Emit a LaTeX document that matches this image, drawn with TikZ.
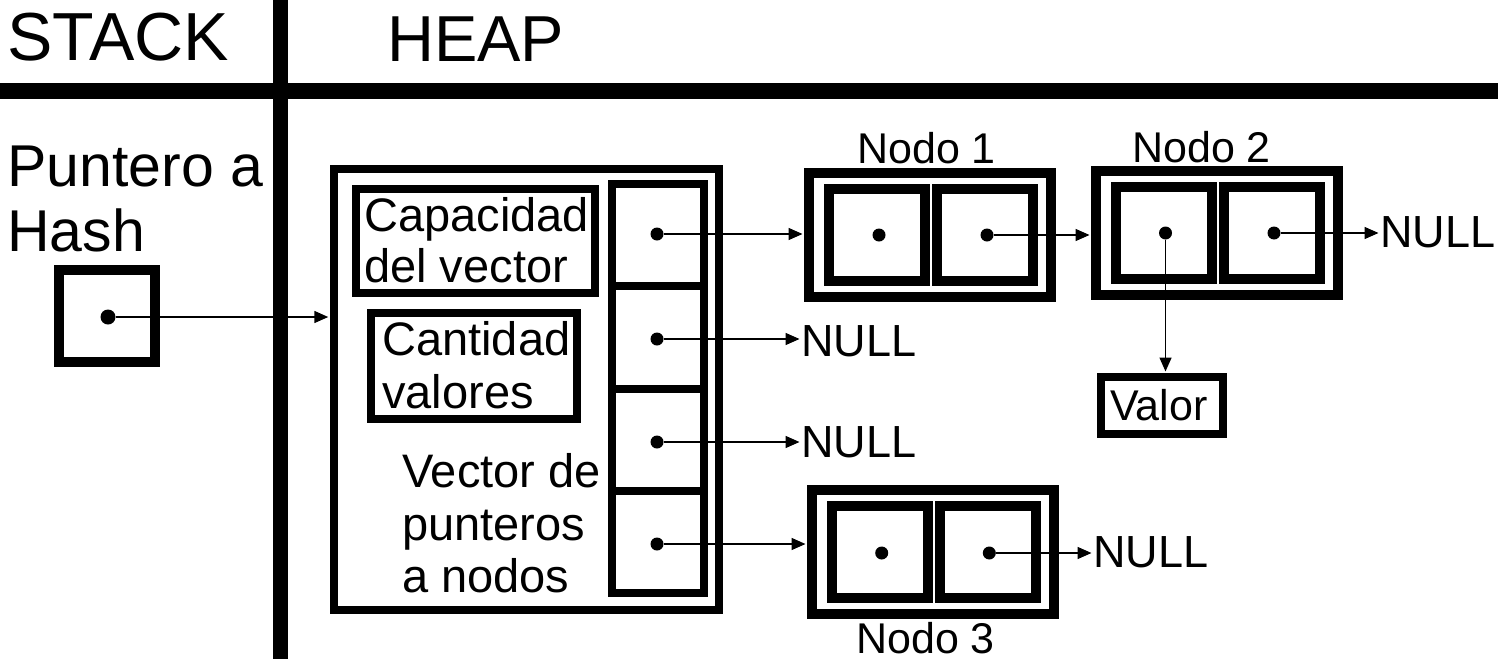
\documentclass[tikz,border=0pt]{standalone}
\usepackage{fontspec}
\setmainfont{Liberation Sans}
\usetikzlibrary{arrows.meta}
\begin{document}
\begin{tikzpicture}[x=1pt,y=-1pt,
  lbl/.style={inner sep=0pt, anchor=base west},
  ttl/.style={lbl, font=\fontsize{65}{70}\selectfont},
  stk/.style={lbl, font=\fontsize{59}{64}\selectfont},
  txt/.style={lbl, font=\fontsize{47}{52}\selectfont},
  nul/.style={lbl, font=\fontsize{45}{50}\selectfont},
  ndl/.style={inner sep=0pt, anchor=base, font=\fontsize{43}{48}\selectfont},
  box/.style={draw, rectangle, inner sep=0pt},
  frame/.style={box, line width=8pt},
  cell/.style={box, line width=8pt, minimum width=92pt, minimum height=102.5pt},
  nodebox/.style={box, line width=10pt, minimum width=242pt, minimum height=124pt},
  half/.style={box, line width=10pt, minimum width=96pt, minimum height=92pt},
  ptr/.style={circle, fill, inner sep=0pt, minimum size=13pt},
  arr/.style={line width=1.5pt, shorten >=1.5pt, -{Triangle[length=14pt,width=12pt]}}
]
\useasboundingbox (0,0) rectangle (1498,659);
\fill[white] (0,0) rectangle (1498,659);

% section dividers
\draw[line width=16pt] (0,91) -- (1498,91);
\draw[line width=15pt] (280,0) -- (280,659);

% titles
\node[ttl, font=\fontsize{68}{72}\selectfont] (stack) at (7,60) {STACK};
\node[ttl] (heap) at (387,61) {HEAP};

% stack
\node[stk] (pt1) at (7,186) {Puntero a};
\node[stk] (pt2) at (7,251) {Hash};
\node[box, line width=10pt, minimum width=96pt, minimum height=92pt] (sbox) at (107,316) {};
\node[ptr, minimum size=15pt] (sdot) at (108,317) {};

% hash structure
\node[frame, minimum width=385pt, minimum height=441pt] (hash) at (526.25,389.5) {};
\node[frame, minimum width=238.7pt, minimum height=104.3pt] (capbox) at (475.35,241.15) {};
\node[txt] (cap1) at (364,231) {Capacidad};
\node[txt] (cap2) at (364,282) {del vector};
\node[frame, minimum width=205.7pt, minimum height=106pt] (cantbox) at (473.85,366) {};
\node[txt] (cant1) at (382,355) {Cantidad};
\node[txt] (cant2) at (382,408) {valores};
\node[txt] (vec1) at (402,487) {Vector de};
\node[txt] (vec2) at (402,540) {punteros};
\node[txt] (vec3) at (402,592) {a nodos};

\node[cell] (c1) at (658,235) {};
\node[cell] (c2) at (658,337.25) {};
\node[cell] (c3) at (658,439.75) {};
\node[cell] (c4) at (658,542.15) {};
\node[ptr] (d1) at (657,234) {};
\node[ptr] (d2) at (657,339) {};
\node[ptr] (d3) at (657,442) {};
\node[ptr] (d4) at (657,544) {};

% NULL labels
\node[nul] (null1) at (1380,247) {NULL};
\node[nul] (null2) at (801,356) {NULL};
\node[nul] (null3) at (801,457) {NULL};
\node[nul] (null4) at (1093,567) {NULL};

% Nodo 1
\node[nodebox] (n1) at (930,235) {};
\node[half] (n1a) at (877,235) {};
\node[half] (n1b) at (985,235) {};
\node[ptr] (n1ad) at (879,235) {};
\node[ptr] (n1bd) at (987,235) {};
\node[ndl] (n1l) at (926.5,163) {Nodo 1};

% Nodo 2
\node[nodebox] (n2) at (1217,233) {};
\node[half] (n2a) at (1164,233) {};
\node[half] (n2b) at (1272,233) {};
\node[ptr] (n2ad) at (1165.5,233) {};
\node[ptr] (n2bd) at (1274,233) {};
\node[ndl] (n2l) at (1201.5,162) {Nodo 2};

% Nodo 3
\node[nodebox] (n3) at (933,552) {};
\node[half] (n3a) at (880,552) {};
\node[half] (n3b) at (988,552) {};
\node[ptr] (n3ad) at (881.7,553) {};
\node[ptr] (n3bd) at (989.3,553) {};
\node[ndl] (n3l) at (925.5,653) {Nodo 3};

% Valor
\node[frame, minimum width=122pt, minimum height=57pt, font=\fontsize{43}{48}\selectfont] (valor) at (1162,405.5) {\hspace*{-6pt}Valor};

% pointers
\draw[arr] (sdot) -- (sdot -| hash.west);
\draw[arr] (d1) -- (d1 -| n1.west);
\draw[arr] (d2) -- (d2 -| null2.west);
\draw[arr] (d3) -- (d3 -| null3.west);
\draw[arr] (d4) -- (d4 -| n3.west);
\draw[arr] (n1bd) -- (n1bd -| n2.west);
\draw[arr] (n2bd) -- (n2bd -| null1.west);
\draw[arr] (n2ad) -- (n2ad |- valor.north);
\draw[arr] (n3bd) -- (n3bd -| null4.west);
\end{tikzpicture}
\end{document}
